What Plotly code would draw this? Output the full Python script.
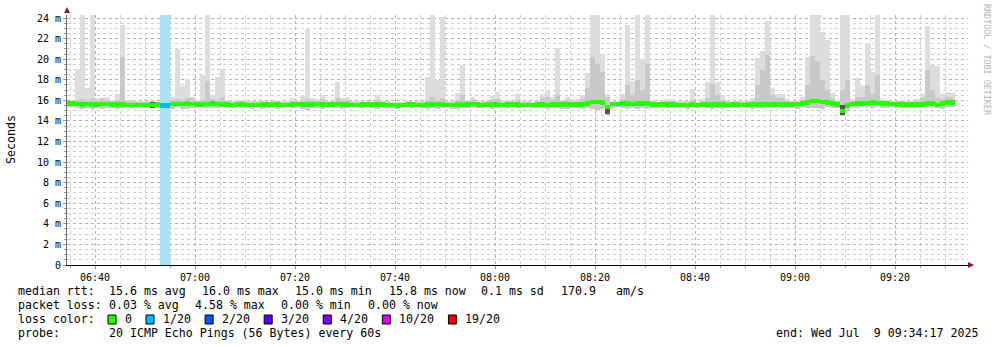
import plotly.graph_objects as go
import pandas as pd

# ---------------- data (ms), one value per minute starting 06:34 ----------------
START = "2025-07-09 06:34:00"

rtt_max = [
    15.9, 15.9, 19.1, 24.4, 17.2, 24.4, 16.2, 16.2, 16.3, 16.0,
    16.6, 23.3, 16.0, 16.0, 15.9, 15.9, 15.9, 15.9, 15.9, 15.9,
    24.4, 16.3, 21.0, 17.4, 18.1, 16.3, 16.0, 18.5, 24.4, 16.5,
    18.3, 19.1, 16.0, 15.9, 16.0, 16.0, 15.9, 15.9, 15.9, 15.9,
    15.9, 15.9, 16.0, 15.9, 15.9, 16.2, 15.9, 16.5, 22.9, 16.2,
    16.1, 16.5, 15.9, 15.9, 17.8, 16.2, 16.3, 15.9, 15.9, 15.9,
    15.9, 15.9, 16.5, 15.9, 15.9, 15.8, 15.8, 15.8, 15.9, 15.9,
    15.9, 15.9, 18.3, 24.4, 18.0, 24.1, 15.9, 15.9, 16.7, 19.4,
    16.0, 16.3, 15.9, 15.9, 15.9, 16.4, 16.8, 15.9, 16.0, 15.9,
    16.6, 15.9, 15.9, 15.8, 15.9, 16.6, 16.9, 16.3, 21.1, 16.0,
    16.3, 15.9, 16.1, 16.5, 18.7, 24.4, 24.4, 20.5, 16.6, 15.9,
    15.9, 16.6, 23.3, 17.9, 24.4, 20.0, 24.4, 16.0, 15.8, 16.0,
    16.1, 16.1, 15.9, 15.9, 15.9, 17.1, 15.8, 16.1, 17.8, 24.4,
    17.8, 16.5, 16.0, 15.9, 15.9, 15.9, 15.9, 16.2, 20.1, 20.8,
    23.7, 17.2, 16.6, 16.6, 16.1, 15.9, 15.9, 16.3, 20.2, 24.4,
    24.4, 22.6, 21.9, 16.7, 16.0, 24.4, 24.4, 16.1, 18.2, 17.4,
    21.6, 18.8, 24.4, 16.1, 16.0, 15.9, 15.9, 16.0, 15.9, 15.9,
    16.1, 16.6, 23.2, 19.4, 19.3, 16.6, 16.8, 16.7,
]

rtt_inner = [
    15.9, 15.9, 16.0, 16.1, 16.0, 16.2, 16.0, 16.2, 16.0, 15.9,
    16.0, 20.2, 15.9, 15.9, 15.8, 15.8, 15.8, 15.8, 15.8, 15.8,
    16.1, 16.0, 16.1, 16.0, 16.2, 16.2, 15.9, 16.0, 17.9, 16.1,
    16.0, 16.3, 15.9, 15.8, 15.9, 15.9, 15.8, 15.8, 15.8, 15.8,
    15.8, 15.8, 15.9, 15.8, 15.8, 15.9, 15.8, 16.0, 16.1, 16.0,
    15.9, 16.1, 15.8, 15.8, 16.2, 16.0, 16.0, 15.8, 15.8, 15.8,
    15.8, 15.8, 16.0, 15.8, 15.8, 15.7, 15.7, 15.7, 15.8, 15.8,
    15.8, 15.8, 16.0, 16.3, 16.0, 16.2, 15.8, 15.8, 16.0, 16.5,
    15.9, 16.0, 15.8, 15.8, 15.8, 16.0, 16.1, 15.8, 15.9, 15.8,
    16.0, 15.8, 15.8, 15.7, 15.8, 16.2, 16.3, 16.0, 16.5, 15.9,
    16.0, 15.8, 15.9, 16.1, 17.2, 20.2, 19.5, 18.8, 16.3, 15.8,
    15.8, 16.1, 17.5, 16.5, 18.0, 17.0, 19.5, 15.9, 15.7, 15.9,
    15.9, 15.9, 15.8, 15.8, 15.8, 16.0, 15.7, 15.9, 16.2, 17.6,
    16.5, 16.0, 15.9, 15.8, 15.8, 15.8, 15.8, 15.9, 17.5, 19.0,
    20.4, 16.5, 16.2, 16.2, 15.9, 15.8, 15.8, 16.0, 17.5, 20.3,
    19.8, 18.0, 17.0, 16.2, 15.9, 17.0, 18.0, 15.9, 16.3, 16.3,
    17.5, 16.6, 18.5, 15.9, 15.9, 15.8, 15.8, 15.9, 15.8, 15.8,
    15.9, 16.2, 19.0, 17.0, 16.2, 16.1, 16.3, 16.3,
]

rtt_min = [
    15.4, 15.4, 15.3, 15.2, 15.3, 15.2, 15.3, 15.2, 15.3, 15.3,
    15.2, 15.3, 15.4, 15.3, 15.4, 15.4, 15.3, 15.4, 15.3, 15.4,
    15.3, 15.2, 15.4, 15.2, 15.2, 15.3, 15.4, 15.4, 15.3, 15.3,
    15.3, 15.4, 15.4, 15.3, 15.4, 15.4, 15.3, 15.2, 15.4, 15.2,
    15.3, 15.4, 15.2, 15.3, 15.4, 15.3, 15.4, 15.2, 15.1, 15.3,
    15.3, 15.2, 15.4, 15.4, 15.3, 15.2, 15.3, 15.4, 15.4, 15.3,
    15.4, 15.3, 15.2, 15.4, 15.3, 15.3, 15.2, 15.3, 15.4, 15.3,
    15.4, 15.3, 15.2, 15.3, 15.2, 15.3, 15.4, 15.2, 15.2, 15.3,
    15.3, 15.4, 15.3, 15.3, 15.4, 15.2, 15.3, 15.4, 15.3, 15.4,
    15.3, 15.4, 15.4, 15.3, 15.3, 15.3, 15.2, 15.3, 15.3, 15.2,
    15.2, 15.4, 15.3, 15.2, 15.3, 15.2, 15.1, 15.2, 14.6, 15.3,
    15.4, 15.3, 15.2, 15.3, 15.2, 15.3, 15.2, 15.3, 15.3, 15.4,
    15.3, 15.3, 15.3, 15.3, 15.2, 15.4, 15.3, 15.4, 15.3, 15.2,
    15.3, 15.2, 15.3, 15.4, 15.3, 15.4, 15.3, 15.2, 15.3, 15.3,
    15.4, 15.5, 15.4, 15.3, 15.3, 15.3, 15.2, 15.4, 15.3, 15.3,
    15.3, 15.2, 15.4, 15.3, 15.3, 14.5, 15.0, 15.4, 15.3, 15.4,
    15.4, 15.3, 15.4, 15.3, 15.3, 15.4, 15.4, 15.3, 15.3, 15.3,
    15.3, 15.4, 15.4, 15.5, 15.3, 15.2, 15.4, 15.4,
]

rtt_median = [
    15.7, 15.7, 15.65, 15.6, 15.65, 15.6, 15.6, 15.65, 15.65, 15.6,
    15.6, 15.6, 15.55, 15.55, 15.55, 15.55, 15.55, 15.55, 15.6, 15.5,
    15.5, 15.65, 15.65, 15.65, 15.7, 15.65, 15.6, 15.6, 15.65, 15.7,
    15.65, 15.6, 15.6, 15.55, 15.6, 15.6, 15.55, 15.55, 15.55, 15.6,
    15.6, 15.6, 15.6, 15.55, 15.55, 15.6, 15.65, 15.6, 15.6, 15.6,
    15.65, 15.6, 15.6, 15.6, 15.65, 15.6, 15.6, 15.55, 15.55, 15.6,
    15.6, 15.6, 15.6, 15.6, 15.55, 15.55, 15.5, 15.55, 15.6, 15.6,
    15.55, 15.55, 15.6, 15.6, 15.65, 15.6, 15.55, 15.55, 15.6, 15.6,
    15.6, 15.65, 15.6, 15.55, 15.6, 15.6, 15.6, 15.55, 15.6, 15.6,
    15.6, 15.55, 15.55, 15.55, 15.6, 15.6, 15.55, 15.6, 15.6, 15.6,
    15.6, 15.6, 15.6, 15.6, 15.7, 15.85, 15.85, 15.8, 15.4, 15.65,
    15.65, 15.7, 15.7, 15.65, 15.7, 15.7, 15.7, 15.6, 15.6, 15.6,
    15.6, 15.6, 15.55, 15.55, 15.55, 15.6, 15.55, 15.6, 15.6, 15.6,
    15.6, 15.6, 15.55, 15.6, 15.6, 15.55, 15.6, 15.6, 15.6, 15.6,
    15.6, 15.6, 15.6, 15.6, 15.6, 15.6, 15.65, 15.7, 15.8, 15.95,
    15.9, 15.85, 15.8, 15.7, 15.6, 15.0, 15.5, 15.65, 15.7, 15.7,
    15.75, 15.8, 15.75, 15.7, 15.7, 15.65, 15.6, 15.6, 15.6, 15.6,
    15.6, 15.6, 15.7, 15.7, 15.55, 15.7, 15.8, 15.8,
]

# dark spots below the median (few minutes)
dark_times = ["2025-07-09 06:51:30", "2025-07-09 08:22:30", "2025-07-09 09:09:30"]
dark_lo = [15.3, 14.7, 14.6]
dark_hi = [15.8, 15.6, 15.6]

# packet loss (pings lost out of 20)
loss_times = ["2025-07-09 06:53:30", "2025-07-09 06:54:30"]
loss_count = [1, 1]

loss_labels = ["0", "1/20", "2/20", "3/20", "4/20", "10/20", "19/20"]
loss_levels = [0, 1, 2, 3, 4, 10, 19]
loss_colors = ["#26ff00", "#00b8ff", "#0059ff", "#5e00ff", "#7e00ff", "#dd00ff", "#ff0000"]

y_ticks = [0, 2, 4, 6, 8, 10, 12, 14, 16, 18, 20, 22, 24]
y_ticktext = ["0"] + [f"{v} m" for v in y_ticks[1:]]

stats_rows = [
    [("median rtt:", 16), ("15.6 ms avg", 107.3), ("16.0 ms max", 200), ("15.0 ms min", 293.3),
     ("15.8 ms now", 386.7), ("0.1 ms sd", 479), ("170.9", 559), ("am/s", 614.3)],
    [("packet loss:", 16), ("0.03 % avg", 107.3), ("4.58 % max", 193), ("0.00 % min", 279.3),
     ("0.00 % now", 365.5)],
    [("loss color:", 16)],
    [("probe:", 16), ("20 ICMP Echo Pings (56 Bytes) every 60s", 107.3)],
]
end_text = "end: Wed Jul\u00a0\u00a09 09:34:17 2025"

# ---------------- figure ----------------
W, H = 997, 347
L, R, T, B = 67, 29, 15, 82
PW, PH = W - L - R, H - T - B
MONO = "DejaVu Sans Mono"


def px(x):
    return (x - L) / PW


def py(y):
    return (H - B - y) / PH


times = pd.date_range(START, periods=len(rtt_max), freq="min") + pd.Timedelta(seconds=30)
BARW = 60000
YTOP = 24.3
LINE_MS = 0.4

loss_map = {t: c for t, c in zip(loss_times, loss_count)}


def loss_color(n):
    col = loss_colors[0]
    for lvl, c in zip(loss_levels, loss_colors):
        if n >= lvl:
            col = c
    return col


med_colors = [loss_color(loss_map.get(t.strftime("%Y-%m-%d %H:%M:%S"), 0)) for t in times]

fig = go.Figure()
fig.add_trace(go.Bar(x=times, base=rtt_min, y=[a - b for a, b in zip(rtt_max, rtt_min)],
                     width=BARW, marker=dict(color="#dddddd", line=dict(width=0)), hoverinfo="skip"))
fig.add_trace(go.Bar(x=times, base=rtt_min, y=[a - b for a, b in zip(rtt_inner, rtt_min)],
                     width=BARW, marker=dict(color="#c8c8c8", line=dict(width=0)), hoverinfo="skip"))
fig.add_trace(go.Bar(x=pd.to_datetime(dark_times), base=dark_lo, y=[a - b for a, b in zip(dark_hi, dark_lo)],
                     width=BARW, marker=dict(color="#555555", line=dict(width=0)), hoverinfo="skip"))
fig.add_trace(go.Bar(x=pd.to_datetime(loss_times), base=[0] * len(loss_times), y=[YTOP + 1] * len(loss_times),
                     width=BARW, marker=dict(color="#a8e2f6", line=dict(width=0)), hoverinfo="skip"))
fig.add_trace(go.Bar(x=times, base=[m - LINE_MS / 2 for m in rtt_median], y=[LINE_MS] * len(times),
                     width=BARW, marker=dict(color=med_colors, line=dict(width=0)), hoverinfo="skip"))

grid_major = "#e4a0a0"
grid_minor = "#cfcfcf"

fig.update_layout(
    width=W, height=H, margin=dict(l=L, r=R, t=T, b=B),
    paper_bgcolor="white", plot_bgcolor="white",
    barmode="overlay", bargap=0, showlegend=False,
    font=dict(family=MONO, size=11.6, color="black"),
    xaxis=dict(
        type="date",
        range=["2025-07-09 06:34:24", "2025-07-09 09:34:36"],
        tick0="2025-07-09 06:40:00", dtick=1200000, tickformat="%H:%M",
        showgrid=True, gridcolor=grid_major, griddash="dot", gridwidth=1,
        minor=dict(dtick=300000, showgrid=True, gridcolor=grid_minor, griddash="dot",
                   ticks="outside", ticklen=2, tickcolor="#999999"),
        ticks="outside", ticklen=3, tickcolor="#999999",
        showline=True, linecolor="black", linewidth=1, zeroline=False,
        tickfont=dict(family=MONO, size=10, color="black"),
        fixedrange=True,
    ),
    yaxis=dict(
        range=[0, YTOP],
        tickvals=y_ticks, ticktext=y_ticktext,
        showgrid=True, gridcolor=grid_major, griddash="dot", gridwidth=1,
        minor=dict(dtick=0.5, showgrid=True, gridcolor=grid_minor, griddash="dot",
                   ticks="outside", ticklen=2, tickcolor="#999999"),
        ticks="outside", ticklen=3, tickcolor="#999999",
        showline=True, linecolor="#666666", linewidth=1, zeroline=False,
        tickfont=dict(family=MONO, size=10, color="black"),
        fixedrange=True,
    ),
)

shapes = []
annotations = []

# axis arrows
shapes.append(dict(type="path", xref="paper", yref="paper", layer="above",
                   path=f"M {px(64)} {py(13)} L {px(70)} {py(13)} L {px(67)} {py(7)} Z",
                   fillcolor="#8b1a1a", line=dict(width=0)))
shapes.append(dict(type="path", xref="paper", yref="paper", layer="above",
                   path=f"M {px(968)} {py(262)} L {px(968)} {py(268)} L {px(974)} {py(265)} Z",
                   fillcolor="#8b1a1a", line=dict(width=0)))

# y title and watermark
annotations.append(dict(text="Seconds", x=px(11), y=py(140), xref="paper", yref="paper",
                        showarrow=False, textangle=-90, font=dict(family=MONO, size=11.6, color="black"),
                        xanchor="center", yanchor="middle"))
annotations.append(dict(text="RRDTOOL / TOBI OETIKER", x=px(987), y=py(60), xref="paper", yref="paper",
                        showarrow=False, textangle=90, font=dict(family=MONO, size=8.4, color="#b4b4b4"),
                        xanchor="center", yanchor="middle"))

# stats rows
row_y = [291, 305, 319, 333]
for row, yy in zip(stats_rows, row_y):
    for txt, xx in row:
        annotations.append(dict(text=txt.replace("  ", "\u00a0\u00a0"), x=px(xx), y=py(yy),
                                xref="paper", yref="paper", showarrow=False,
                                xanchor="left", yanchor="middle",
                                font=dict(family=MONO, size=11.6, color="black")))

annotations.append(dict(text=end_text, x=px(980), y=py(333), xref="paper", yref="paper",
                        showarrow=False, xanchor="right", yanchor="middle",
                        font=dict(family=MONO, size=11.6, color="black")))

# loss colour legend
sq_x = 108
for lab, col in zip(loss_labels, loss_colors):
    shapes.append(dict(type="rect", xref="paper", yref="paper", layer="above",
                       x0=px(sq_x), x1=px(sq_x + 8), y0=py(315), y1=py(324),
                       fillcolor=col, line=dict(color="black", width=1)))
    lab_x = sq_x + 15
    annotations.append(dict(text=lab, x=px(lab_x), y=py(319), xref="paper", yref="paper",
                            showarrow=False, xanchor="left", yanchor="middle",
                            font=dict(family=MONO, size=11.6, color="black")))
    sq_x = lab_x + len(lab) * 7.02 + 16

fig.update_layout(shapes=shapes, annotations=annotations)

fig.write_html("out.html")
